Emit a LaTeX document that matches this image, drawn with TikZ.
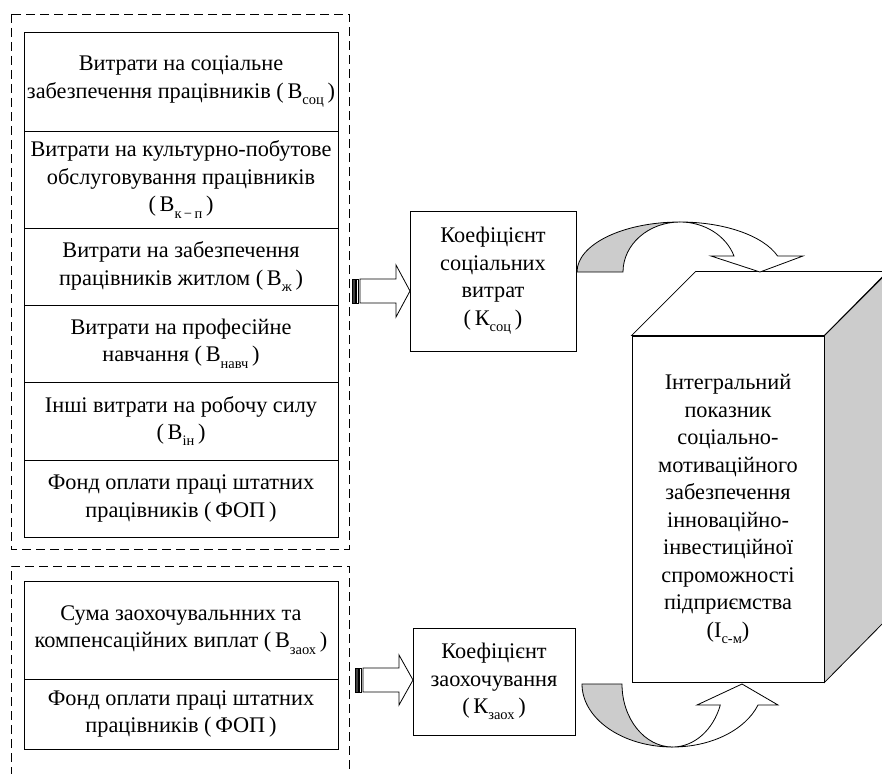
\documentclass[tikz,border=0pt]{standalone}
\usepackage{fontspec}
\setmainfont{Liberation Serif}
\newfontfamily\ser{Liberation Serif}
\definecolor{shade}{HTML}{CCCCCC}
\newcommand\sbs[1]{\raisebox{-0.28em}{\fontsize{14.5}{14.5}\selectfont #1}}
\begin{document}
\begin{tikzpicture}[x=1pt,y=-1pt,
  every node/.style={font=\ser\fontsize{22.3}{27.5}\selectfont},
  cell/.style={draw, line width=0.9pt, align=center, inner sep=0pt, minimum width=314pt},
  dashbox/.style={draw, line width=0.9pt, dash pattern=on 9pt off 5pt},
  kbox/.style={draw, line width=0.9pt, align=center, inner sep=0pt},
  outl/.style={draw, line width=0.8pt, line join=miter}]
\useasboundingbox (0,0) rectangle (882,773);
\clip (0,0) rectangle (882,773);
% upper group
\draw[dashbox] (11,14) rectangle (349,549);
\node[cell, minimum height=99pt] (c1) at (181,81.5) {Витрати на соціальне\\забезпечення працівників (\,В\sbs{соц}\,)};
\node[cell, minimum height=97pt] (c2) at (181,179.5) {Витрати на культурно-побутове\\обслуговування працівників\\(\,В\sbs{к\,−\,п}\,)};
\node[cell, minimum height=77pt] (c3) at (181,266.5) {Витрати на забезпечення\\працівників житлом (\,В\sbs{ж}\,)};
\node[cell, minimum height=77pt] (c4) at (181,343.5) {Витрати на професійне\\навчання (\,В\sbs{навч}\,)};
\node[cell, minimum height=78pt] (c5) at (181,421) {Інші витрати на робочу силу\\(\,В\sbs{ін}\,)};
\node[cell, minimum height=77pt] (c6) at (181,498.5) {Фонд оплати праці штатних\\працівників (\,ФОП\,)};
% lower group
\draw[dashbox] (11,790) -- (11,566) -- (349,566) -- (349,790);
\node[cell, minimum height=98pt] (l1) at (181,630) {Сума заохочувальнних та\\компенсаційних виплат (\,В\sbs{заох}\,)};
\node[cell, minimum height=70pt] (l2) at (181,714) {Фонд оплати праці штатних\\працівників (\,ФОП\,)};
% coefficient boxes
\node[kbox, minimum width=166pt, minimum height=140pt] (ksoc) at (493,281) {Коефіцієнт\\соціальних\\витрат\\(\,К\sbs{соц}\,)};
\node[kbox, minimum width=162pt, minimum height=107pt] (kzaox) at (494,681.5) {Коефіцієнт\\заохочування\\(\,К\sbs{заох}\,)};
% striped arrows
\coordinate (tip1) at (410,291);
\filldraw[line width=0.6pt, fill=darkgray] (352,279) rectangle (355,303);
\draw[line width=0.6pt] (356.5,279) rectangle (358.5,303);
\draw[outl, fill=white] (360,279) -- (396,279) -- (396,265) -- (tip1) -- (396,317) -- (396,303) -- (360,303) -- cycle;
\coordinate (tip2) at (413,680);
\filldraw[line width=0.6pt, fill=darkgray] (355,668) rectangle (358,692);
\draw[line width=0.6pt] (359.5,668) rectangle (361.5,692);
\draw[outl, fill=white] (363,668) -- (399,668) -- (399,655) -- (tip2) -- (399,705) -- (399,692) -- (363,692) -- cycle;
% integral 3D box
\node[kbox, minimum width=192pt, minimum height=346pt] (integ) at (728,509) {Інтегральний\\показник\\соціально-\\мотиваційного\\забезпечення\\інноваційно-\\інвестиційної\\спроможності\\підприємства\\(І\sbs{с-м})};
\draw[outl, fill=white] (integ.north west) -- ++(64,-64) -- ++(192,0) -- (integ.north east) -- cycle;
\draw[outl, fill=shade] (integ.north east) -- ++(64,-64) -- ++(0,346) -- (integ.south east) -- cycle;
% top curved arrow
\draw[outl, fill=shade] (577,272) arc[start angle=180, end angle=270, x radius=103, y radius=50]
  arc[start angle=270, end angle=180, x radius=57, y radius=50] -- cycle;
\draw[outl, fill=white] (680,222) arc[start angle=270, end angle=341.34, x radius=103, y radius=50]
  -- (803,256) -- (760,272) -- (711,256) -- (734.0,256)
  arc[start angle=341.34, end angle=270, x radius=57, y radius=50] -- cycle;
% bottom curved arrow
\draw[outl, fill=shade] (582,684) arc[start angle=180, end angle=90, x radius=90.6, y radius=63]
  arc[start angle=90, end angle=180, x radius=50.6, y radius=63] -- cycle;
\draw[outl, fill=white] (672.6,747) arc[start angle=90, end angle=19.47, x radius=90.6, y radius=63]
  -- (778,705) -- (742,684) -- (697,705) -- (720.3,705)
  arc[start angle=19.47, end angle=90, x radius=50.6, y radius=63] -- cycle;
\end{tikzpicture}
\end{document}
